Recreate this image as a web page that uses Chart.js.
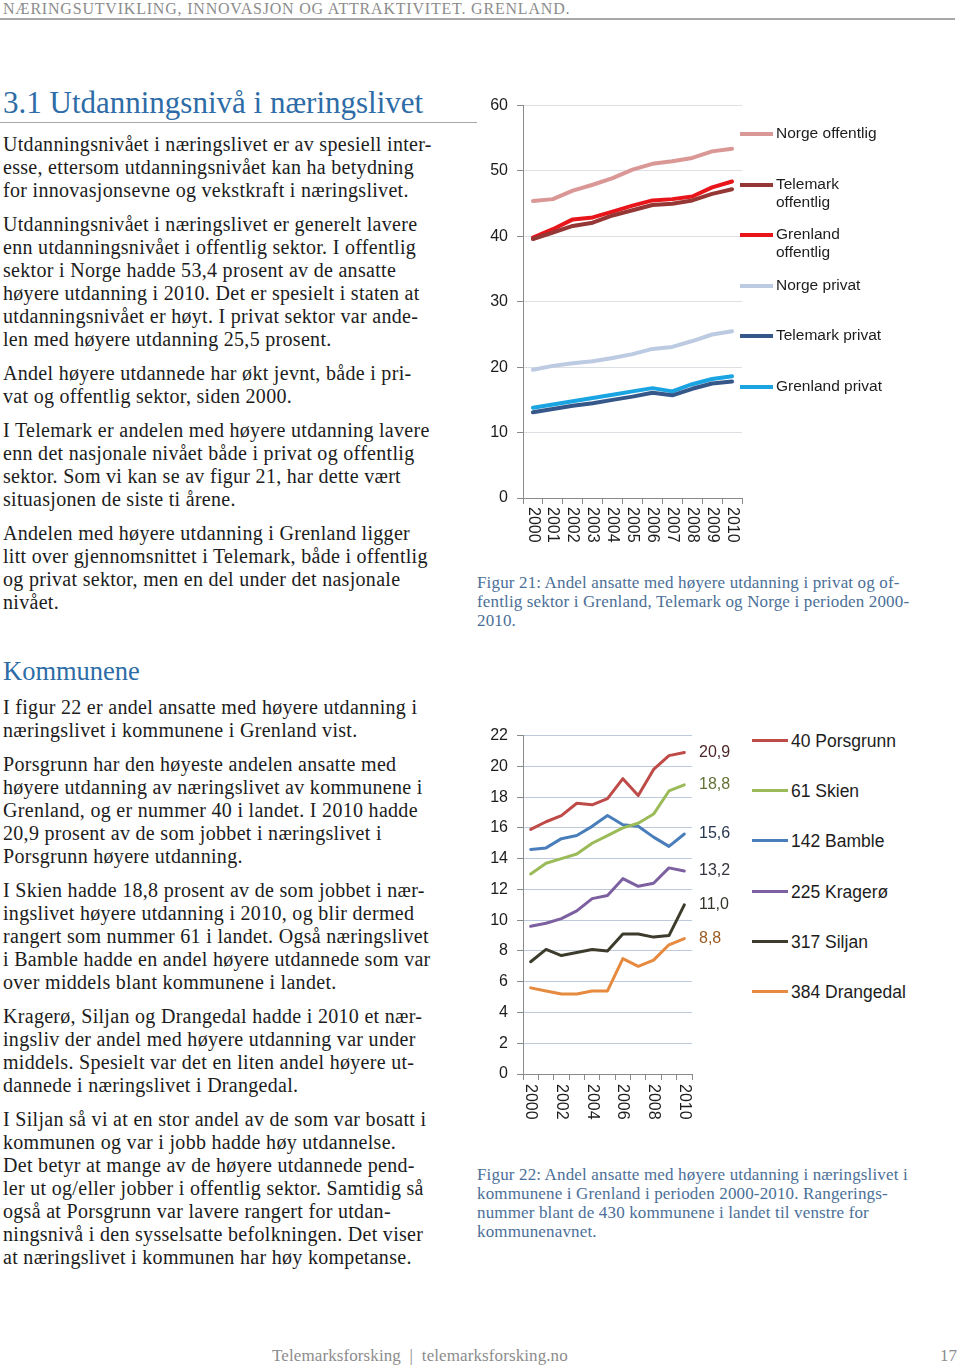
<!DOCTYPE html>
<html>
<head>
<meta charset="utf-8">
<script src="https://cdn.jsdelivr.net/npm/chart.js@4.4.0/dist/chart.umd.min.js"></script>
<style>
body { margin:0; width:960px; height:1365px; position:relative; background:#fff; overflow:hidden;
       font-family:"Liberation Serif", serif; color:#1c1c1c; }
.abs { position:absolute; }
.topline { left:3px; top:0; font-size:16px; color:#8c8c8c; letter-spacing:0.8px; line-height:17px; }
.rule1 { left:0; top:18px; width:955px; height:0; border-top:2px solid #a8a8a8; }
h1, h2 { margin:0; font-weight:normal; color:#2d6ca6; }
.h1 { left:3px; top:85px; font-size:31px; line-height:36px; }
.rule2 { left:0; top:122px; width:477px; border-top:1px solid #a8a8a8; }
.h2 { left:3px; top:656px; font-size:26.5px; line-height:30px; }
.col { left:3px; width:470px; font-size:20px; letter-spacing:0.3px; line-height:23px; white-space:nowrap; }
.col p { margin:0 0 11px 0; }
.cap { left:477px; font-size:17px; letter-spacing:0.15px; line-height:19px; color:#4b6f98; white-space:nowrap; }
.foot { top:1346px; font-size:17px; letter-spacing:0.1px; color:#8c8c8c; }
.legend { font-family:"Liberation Sans", Arial, sans-serif; color:#1c1c1c; }
.legend .item { position:absolute; left:0; display:flex; align-items:flex-start; }
.legend .swatch { flex:none; margin-top:8px; }
</style>
</head>
<body>
<div class="abs topline">NÆRINGSUTVIKLING, INNOVASJON OG ATTRAKTIVITET. GRENLAND.</div>
<div class="abs rule1"></div>

<h1 class="abs h1">3.1 Utdanningsnivå i næringslivet</h1>
<div class="abs rule2"></div>

<div class="abs col" style="top:133px">
<p>Utdanningsnivået i næringslivet er av spesiell inter-<br>esse, ettersom utdanningsnivået kan ha betydning<br>for innovasjonsevne og vekstkraft i næringslivet.</p>
<p>Utdanningsnivået i næringslivet er generelt lavere<br>enn utdanningsnivået i offentlig sektor. I offentlig<br>sektor i Norge hadde 53,4 prosent av de ansatte<br>høyere utdanning i 2010. Det er spesielt i staten at<br>utdanningsnivået er høyt. I privat sektor var ande-<br>len med høyere utdanning 25,5 prosent.</p>
<p>Andel høyere utdannede har økt jevnt, både i pri-<br>vat og offentlig sektor, siden 2000.</p>
<p>I Telemark er andelen med høyere utdanning lavere<br>enn det nasjonale nivået både i privat og offentlig<br>sektor. Som vi kan se av figur 21, har dette vært<br>situasjonen de siste ti årene.</p>
<p>Andelen med høyere utdanning i Grenland ligger<br>litt over gjennomsnittet i Telemark, både i offentlig<br>og privat sektor, men en del under det nasjonale<br>nivået.</p>
</div>

<h2 class="abs h2">Kommunene</h2>
<div class="abs col" style="top:696px">
<p>I figur 22 er andel ansatte med høyere utdanning i<br>næringslivet i kommunene i Grenland vist.</p>
<p>Porsgrunn har den høyeste andelen ansatte med<br>høyere utdanning av næringslivet av kommunene i<br>Grenland, og er nummer 40 i landet. I 2010 hadde<br>20,9 prosent av de som jobbet i næringslivet i<br>Porsgrunn høyere utdanning.</p>
<p>I Skien hadde 18,8 prosent av de som jobbet i nær-<br>ingslivet høyere utdanning i 2010, og blir dermed<br>rangert som nummer 61 i landet. Også næringslivet<br>i Bamble hadde en andel høyere utdannede som var<br>over middels blant kommunene i landet.</p>
<p>Kragerø, Siljan og Drangedal hadde i 2010 et nær-<br>ingsliv der andel med høyere utdanning var under<br>middels. Spesielt var det en liten andel høyere ut-<br>dannede i næringslivet i Drangedal.</p>
<p>I Siljan så vi at en stor andel av de som var bosatt i<br>kommunen og var i jobb hadde høy utdannelse.<br>Det betyr at mange av de høyere utdannede pend-<br>ler ut og/eller jobber i offentlig sektor. Samtidig så<br>også at Porsgrunn var lavere rangert for utdan-<br>ningsnivå i den sysselsatte befolkningen. Det viser<br>at næringslivet i kommunen har høy kompetanse.</p>
</div>

<div class="abs" style="left:470px; top:87px; width:280px; height:475px;"><canvas id="chart1"></canvas></div>
<div class="abs legend" id="legend1" style="left:740px; top:124px; width:220px; font-size:15.5px; line-height:18px;"></div>
<div class="abs cap" style="top:573px">Figur 21: Andel ansatte med høyere utdanning i privat og of-<br>fentlig sektor i Grenland, Telemark og Norge i perioden 2000-<br>2010.</div>

<div class="abs" style="left:470px; top:717px; width:280px; height:423px;"><canvas id="chart2"></canvas></div>
<div class="abs legend" id="legend2" style="left:752px; top:731px; width:208px; font-size:17.5px; line-height:20px;"></div>
<div class="abs cap" style="top:1165px">Figur 22: Andel ansatte med høyere utdanning i næringslivet i<br>kommunene i Grenland i perioden 2000-2010. Rangerings-<br>nummer blant de 430 kommunene i landet til venstre for<br>kommunenavnet.</div>

<div class="abs foot" style="left:272px">Telemarksforsking &nbsp;|&nbsp; telemarksforsking.no</div>
<div class="abs foot" style="left:940px">17</div>

<script>
// Figur 21 data
const years = ['2000', '2001', '2002', '2003', '2004', '2005', '2006', '2007', '2008', '2009', '2010'];
const fig21Labels = [['Norge offentlig'], ['Telemark', 'offentlig'], ['Grenland', 'offentlig'], ['Norge privat'], ['Telemark privat'], ['Grenland privat']];
const norgeOffentlig = [45.4, 45.7, 47.0, 47.9, 48.9, 50.2, 51.1, 51.5, 52.0, 53.0, 53.4];
const telemarkOffentlig = [39.6, 40.6, 41.6, 42.1, 43.2, 44.0, 44.8, 45.0, 45.5, 46.5, 47.2];
const grenlandOffentlig = [39.8, 41.1, 42.6, 42.9, 43.8, 44.7, 45.5, 45.7, 46.1, 47.5, 48.4];
const norgePrivat = [19.6, 20.2, 20.6, 20.9, 21.4, 22.0, 22.8, 23.1, 24.0, 25.0, 25.5];
const telemarkPrivat = [13.1, 13.6, 14.1, 14.5, 15.0, 15.5, 16.1, 15.7, 16.7, 17.5, 17.8];
const grenlandPrivat = [13.8, 14.3, 14.8, 15.3, 15.8, 16.3, 16.8, 16.3, 17.4, 18.2, 18.6];
const fig21Colors = ['#d99795', '#943735', '#e8151b', '#bccbe2', '#35578a', '#1aa5e2'];
const fig21Ticks = [0, 10, 20, 30, 40, 50, 60];

// Figur 22 data
const fig22Labels = ['40 Porsgrunn', '61 Skien', '142 Bamble', '225 Kragerø', '317 Siljan', '384 Drangedal'];
const porsgrunn = [15.9, 16.4, 16.8, 17.6, 17.5, 17.9, 19.2, 18.1, 19.8, 20.7, 20.9];
const skien = [13.0, 13.7, 14.0, 14.3, 15.0, 15.5, 16.0, 16.3, 16.9, 18.4, 18.8];
const bamble = [14.6, 14.7, 15.3, 15.5, 16.1, 16.8, 16.2, 16.1, 15.4, 14.8, 15.6];
const krageroe = [9.6, 9.8, 10.1, 10.6, 11.4, 11.6, 12.7, 12.2, 12.4, 13.4, 13.2];
const siljan = [7.3, 8.1, 7.7, 7.9, 8.1, 8.0, 9.1, 9.1, 8.9, 9.0, 11.0];
const drangedal = [5.6, 5.4, 5.2, 5.2, 5.4, 5.4, 7.5, 7.0, 7.4, 8.4, 8.8];
const fig22Colors = ['#be4b48', '#9bbb59', '#4a7ebb', '#7d60a0', '#3d3c2c', '#e68a3f'];
const fig22ValueColors = ['#4d2628', '#637236', '#27384f', '#36323f', '#34342a', '#9c5a20'];
const fig22Ticks = [0, 2, 4, 6, 8, 10, 12, 14, 16, 18, 20, 22];

Chart.defaults.font.family = '"Liberation Sans", Arial, sans-serif';
Chart.defaults.color = '#1c1c1c';
Chart.defaults.animation = false;

// x labels rotated clockwise (read top to bottom), as in the reference
const rotatedXLabels = {
    id: 'rotatedXLabels',
    afterDraw(chart, args, opts) {
        const x = chart.scales.x;
        const ctx = chart.ctx;
        ctx.save();
        ctx.font = opts.size + 'px "Liberation Sans", Arial, sans-serif';
        ctx.fillStyle = '#1c1c1c';
        ctx.textAlign = 'left';
        ctx.textBaseline = 'middle';
        chart.data.labels.forEach((lab, i) => {
            if (i % opts.every !== 0) return;
            ctx.save();
            ctx.translate(x.getPixelForValue(i), x.top + opts.offset);
            ctx.rotate(Math.PI / 2);
            ctx.fillText(lab, 0, 0);
            ctx.restore();
        });
        ctx.restore();
    }
};

// value of the last year printed right of the plot
const endValues = {
    id: 'endValues',
    afterDraw(chart, args, opts) {
        if (!opts.show) return;
        const ctx = chart.ctx;
        const y = chart.scales.y;
        ctx.save();
        ctx.font = '16px "Liberation Sans", Arial, sans-serif';
        ctx.textAlign = 'left';
        ctx.textBaseline = 'middle';
        chart.data.datasets.forEach((ds, i) => {
            const v = ds.data[ds.data.length - 1];
            ctx.fillStyle = opts.colors[i];
            ctx.fillText(v.toFixed(1).replace('.', ','), chart.chartArea.right + 7, y.getPixelForValue(v));
        });
        ctx.restore();
    }
};

function makeChart(id, series, colors, labels, ticks, lineWidth, gridColor, pad, xHeight, every, labelOffset, endOpts) {
    return new Chart(document.getElementById(id), {
        type: 'line',
        data: {
            labels: years,
            datasets: series.map((d, i) => ({
                label: labels[i],
                data: d,
                borderColor: colors[i],
                backgroundColor: colors[i],
                borderWidth: lineWidth,
                pointRadius: 0,
                tension: 0,
                borderCapStyle: 'round',
                borderJoinStyle: 'round'
            }))
        },
        options: {
            responsive: true,
            maintainAspectRatio: false,
            layout: { padding: pad },
            plugins: {
                legend: { display: false },
                tooltip: { enabled: false },
                rotatedXLabels: { size: 16, offset: labelOffset, every: every },
                endValues: endOpts
            },
            scales: {
                x: {
                    offset: true,
                    grid: { drawOnChartArea: false, offset: true, tickLength: 6, tickColor: '#8a8a8a' },
                    border: { color: '#8a8a8a' },
                    ticks: { display: false },
                    afterFit: s => { s.height = xHeight; }
                },
                y: {
                    min: ticks[0],
                    max: ticks[ticks.length - 1],
                    afterBuildTicks: s => { s.ticks = ticks.map(v => ({ value: v })); },
                    grid: { color: gridColor, tickLength: 6, tickColor: '#8a8a8a' },
                    border: { color: '#8a8a8a' },
                    ticks: { font: { size: 16 }, padding: 9, color: '#1c1c1c' },
                    afterFit: s => { s.width = 53; }
                }
            }
        },
        plugins: [rotatedXLabels, endValues]
    });
}

makeChart('chart1',
    [norgeOffentlig, telemarkOffentlig, grenlandOffentlig, norgePrivat, telemarkPrivat, grenlandPrivat],
    fig21Colors, fig21Labels.map(l => l.join(' ')), fig21Ticks, 4, '#dcdfe4',
    { top: 11, left: 0, right: 8, bottom: 10 }, 54, 1, 9, { show: false });

makeChart('chart2',
    [porsgrunn, skien, bamble, krageroe, siljan, drangedal],
    fig22Colors, fig22Labels, fig22Ticks, 3, '#bccadb',
    { top: 11, left: 0, right: 58, bottom: 10 }, 56, 2, 10, { show: true, colors: fig22ValueColors });

// legends
function buildLegend(id, labels, colors, step, swW, swH) {
    const box = document.getElementById(id);
    labels.forEach((lab, i) => {
        const item = document.createElement('div');
        item.className = 'item';
        item.style.top = (i * step) + 'px';
        const sw = document.createElement('div');
        sw.className = 'swatch';
        sw.style.width = swW + 'px';
        sw.style.height = swH + 'px';
        sw.style.background = colors[i];
        sw.style.marginRight = '3px';
        const txt = document.createElement('div');
        txt.innerHTML = [].concat(lab).join('<br>');
        item.appendChild(sw);
        item.appendChild(txt);
        box.appendChild(item);
    });
}
buildLegend('legend1', fig21Labels, fig21Colors, 50.6, 33, 4);
buildLegend('legend2', fig22Labels, fig22Colors, 50.2, 36, 3);
</script>
</body>
</html>
